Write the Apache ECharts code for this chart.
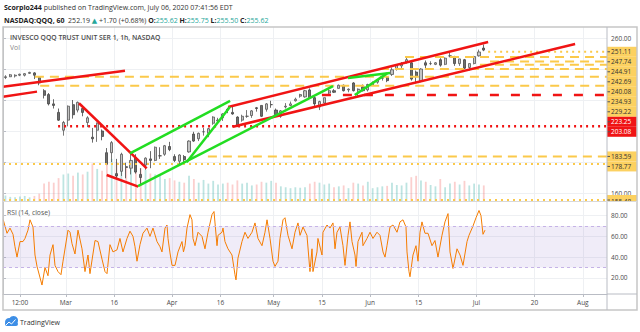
<!DOCTYPE html>
<html><head><meta charset="utf-8">
<script src="https://cdn.jsdelivr.net/npm/echarts@6/dist/echarts.min.js"></script>
<style>html,body{margin:0;padding:0;background:#fff}#c{width:640px;height:332px}</style>
</head><body><div id="c"></div>
<script>
// ---------- DATA ----------
const days = [
 '02-11','02-12','02-13','02-14','02-18','02-19','02-20','02-21','02-24','02-25','02-26','02-27','02-28',
 '03-02','03-03','03-04','03-05','03-06','03-09','03-10','03-11','03-12','03-13','03-16','03-17','03-18','03-19','03-20','03-23','03-24','03-25','03-26','03-27','03-30','03-31',
 '04-01','04-02','04-03','04-06','04-07','04-08','04-09','04-13','04-14','04-15','04-16','04-17','04-20','04-21','04-22','04-23','04-24','04-27','04-28','04-29','04-30',
 '05-01','05-04','05-05','05-06','05-07','05-08','05-11','05-12','05-13','05-14','05-15','05-18','05-19','05-20','05-21','05-22','05-26','05-27','05-28','05-29',
 '06-01','06-02','06-03','06-04','06-05','06-08','06-09','06-10','06-11','06-12','06-15','06-16','06-17','06-18','06-19','06-22','06-23','06-24','06-25','06-26','06-29','06-30',
 '07-01','07-02','07-06','07-07','07-08','07-09','07-10','07-13','07-14','07-15','07-16','07-17','07-20','07-21','07-22','07-23','07-24','07-27','07-28','07-29','07-30','07-31',
 '08-03','08-04','08-05','08-06','08-07'
];
const open = [234.5,235.0,235.5,236.0,236.0,237.2,237.5,234.5,226.0,223.5,217.5,212.0,200.5,
 207.0,217.0,213.5,214.5,205.5,196.0,200.5,200.0,186.0,186.0,172.5,174.0,177.0,176.0,183.0,172.0,178.0,182.0,181.0,184.0,185.0,190.0,
 183.5,180.5,183.5,186.5,198.0,195.0,199.5,198.5,205.0,206.5,208.5,214.0,212.0,209.0,207.0,209.5,210.0,215.0,216.5,214.0,217.0,
 213.5,209.5,215.5,216.5,219.5,222.5,222.0,226.5,221.5,215.5,218.0,224.5,226.0,227.5,229.5,226.5,231.0,226.5,228.5,226.5,
 229.5,231.5,234.0,234.5,236.5,240.0,242.0,244.5,244.0,238.0,232.0,244.0,243.5,243.0,246.0,243.0,248.5,248.0,243.5,246.0,241.0,243.5,
 248.5,253.5];
const close = [235.0,236.3,236.0,236.6,237.0,237.8,236.0,231.0,223.0,217.5,216.5,207.0,205.5,
 216.0,210.5,218.5,212.0,208.5,195.0,205.0,196.5,178.5,192.5,171.0,185.0,176.5,181.0,173.5,170.0,182.5,181.0,189.5,184.0,190.5,188.0,
 181.0,184.5,181.5,193.5,193.5,198.5,199.5,201.5,209.0,207.0,211.0,213.5,211.0,203.5,209.5,209.5,213.0,214.5,209.5,217.5,217.0,
 210.5,213.0,216.0,217.5,220.5,223.5,226.0,221.5,217.5,219.0,221.5,226.0,225.0,229.5,226.0,227.0,226.0,227.0,226.0,230.0,
 231.0,233.0,234.5,232.5,239.5,242.5,243.5,246.0,233.5,235.0,240.0,242.5,243.5,244.0,242.5,247.0,248.5,243.5,246.5,240.5,243.5,248.0,
 251.0,252.2];
const low = [233.5,234.8,234.5,235.4,235.2,236.8,233.5,229.5,221.0,216.5,214.5,206.5,197.0,
 203.0,208.0,212.0,209.5,202.5,192.5,193.0,194.0,178.0,180.0,169.0,171.0,169.5,172.0,172.5,165.0,175.0,176.0,180.5,182.0,184.0,187.0,
 180.0,178.5,179.5,186.0,193.0,193.5,197.0,196.0,204.0,205.0,206.5,211.5,210.5,202.5,206.0,208.5,208.5,212.5,209.0,212.5,215.0,
 209.5,208.5,214.5,216.0,219.0,221.5,221.5,221.5,215.5,213.5,217.0,223.5,224.5,227.5,225.5,225.0,225.5,222.5,225.5,225.5,
 229.0,230.5,232.5,231.5,235.5,239.0,240.5,243.5,232.5,231.5,231.5,240.5,242.5,242.5,241.5,242.5,247.5,242.0,242.0,240.0,239.0,243.0,
 248.0,251.5];
const high = [236.0,236.8,236.6,237.0,237.3,238.2,238.0,235.0,227.0,224.5,220.5,214.5,206.5,
 216.5,220.0,219.0,216.5,209.5,202.0,205.5,201.0,189.0,193.5,182.0,186.0,179.5,185.5,185.0,176.0,183.0,187.0,190.0,189.5,191.0,193.0,
 185.0,185.0,184.5,194.0,199.5,199.0,202.0,202.0,209.5,208.5,211.5,215.0,215.5,209.5,210.5,213.5,213.5,215.5,216.5,218.0,219.5,
 214.5,213.5,218.0,219.0,221.5,224.0,226.5,227.5,222.5,219.5,221.5,227.5,227.0,230.0,230.0,227.5,231.5,227.5,230.0,230.5,
 232.0,233.5,235.5,235.5,241.0,243.0,244.5,248.0,245.0,239.0,240.5,245.5,245.0,244.5,247.0,247.5,251.2,248.5,246.5,246.5,243.5,248.5,
 252.5,255.8];
const volume = [12,9,8,10,11,8,11,16,38,42,40,50,58,
 60,55,62,58,64,82,70,66,88,92,85,75,72,70,80,72,68,60,58,55,48,50,
 45,42,40,55,48,40,46,38,44,36,38,40,36,45,38,40,34,36,42,40,44,
 40,32,30,28,30,29,30,38,42,40,36,38,30,32,34,28,40,38,34,42,
 28,30,32,33,40,35,34,40,52,55,45,42,35,32,48,30,38,42,36,44,34,38,
 36,34];
// RSI(14) samples: trading-day position, value
const rsiTime = [0.05,0.83,1.45,2.07,2.48,2.9,3.52,4.14,4.55,5.17,5.59,6.21,6.62,7.04,8.07,8.69,9.31,9.73,10.35,10.76,11.38,12.0,12.42,13.45,13.87,14.28,14.9,15.52,16.35,16.97,17.59,18.0,19.04,19.66,20.49,21.11,21.52,22.14,22.76,23.59,24.21,24.83,25.66,26.28,26.9,27.32,27.73,28.35,28.97,29.8,30.42,31.04,31.87,32.49,32.9,33.53,33.94,34.15,34.56,34.98,35.6,36.22,37.04,37.35,37.67,38.08,38.7,39.11,39.32,39.74,40.36,41.18,41.8,42.43,43.25,43.67,44.29,44.5,45.32,45.53,45.94,46.56,47.39,48.01,48.22,48.63,49.46,50.08,50.7,51.53,52.15,52.77,53.6,54.22,54.64,55.26,55.88,56.29,56.91,57.33,57.95,58.36,58.98,59.81,60.43,61.05,61.47,62.09,62.91,63.53,63.95,64.15,64.98,65.18,66.02,66.22,67.05,67.67,68.29,68.71,69.12,69.74,70.36,70.78,71.4,71.81,72.23,72.85,73.06,73.47,74.3,74.5,75.33,75.95,76.57,77.4,78.02,78.64,79.06,79.47,80.09,80.71,81.54,82.16,82.78,83.4,83.61,84.02,84.23,84.85,85.47,85.89,86.3,86.71,87.33,87.96,88.78,89.4,90.02,90.85,91.47,92.1,92.51,93.13,93.96,94.58,95.2,96.03,96.44,97.27,97.89,98.51,98.92,99.34,99.75];
const rsiValue = [76,63,68,62,50,40,55,55,58,66,76,69,42,31,13,30,22,42,52,32,26,23,36,66,64,53,43,66,48,26,42,24,56,55,38,26,24,52,45,47,58,45,58,65,60,50,36,52,63,68,60,68,55,50,45,68,71,58,44,32,32,45,55,45,51,68,81,76,58,51,64,60,48,64,81,84,51,61,64,68,55,48,42,23,18,39,55,64,58,64,73,58,51,64,76,58,36,31,36,58,76,78,61,48,64,73,61,69,61,26,48,26,45,58,42,64,71,68,73,48,64,69,51,32,61,74,55,42,31,55,64,51,58,64,58,64,61,45,40,51,69,71,64,74,76,69,45,26,21,42,51,36,64,74,63,63,51,56,40,61,74,82,45,29,48,42,32,55,61,70,78,85,80,62,66];
// drawn trend lines: [startDay, startPrice, endDay, endPrice]
const redTrend = [[0,228.6,25.25,238.9],[0,222.1,7.04,225.4],[15.73,217.9,29.74,175.9],[21.46,171.6,28.0,164.1],[46.6,215.5,100.4,257.4],[47.6,202.8,118.4,256.1]];
const greenTrend = [[26.28,185.6,47.0,219.4],[27.94,164.5,68.3,229.0],[38.0,179.8,47.0,215.7],[72.8,223.2,79.5,237.2],[71.4,234.2,80.1,237.4]];
// horizontal levels: [price, startDay]
const yellowDashed = [[247.74,83.2],[244.91,100.8],[242.69,98.7],[240.08,78],[234.93,6.6],[229.22,7.7],[183.59,42.4]];
const yellowDotted = [[251.11,100.4],[178.77,0],[155.48,0]];
const redDashed = [[223.25,66]];
const redDotted = [[203.08,11.4]];
// axis ticks
const priceTicks = [160,180,200,220,240,260];
const priceLabels = [160,260];
const rsiTicks = [20,40,60,80];
const timeTickDays = ['02-14','03-02','03-16','04-01','04-16','05-01','05-15','06-01','06-15','07-01','07-20','08-03'];
const timeTickText = ['12:00','Mar','16','Apr','16','May','15','Jun','15','Jul','20','Aug'];

// ---------- CHART ----------
const FONT = '"Open Sans", "DejaVu Sans", sans-serif';
const chart = echarts.init(document.getElementById('c'), null, {renderer: 'svg'});
const N = days.length;
const timeTickPos = timeTickDays.map((d, i) => days.indexOf(d) + (timeTickText[i] === '12:00' ? 0.5 : 0));
const timeLabelOf = v => { const k = timeTickPos.findIndex(p => Math.abs(p - v) < 1e-6); return k >= 0 ? timeTickText[k] : ''; };

const GRID = '#eef0f3';
const AXIS = '#b9bcc4';
const LBL = '#4a4a4a';

const series = [];
series.push({
  type: 'bar', xAxisIndex: 0, yAxisIndex: 1, barWidth: 1.8, silent: true, z: 1,
  data: volume.map((v, i) => ({value: v, itemStyle: {color: close[i] >= open[i] ? 'rgba(38,166,154,0.3)' : 'rgba(239,83,80,0.28)'}}))
});
series.push({
  type: 'candlestick', xAxisIndex: 0, yAxisIndex: 0, barWidth: 2.6, silent: true, z: 2,
  data: open.map((o, i) => [o, close[i], low[i], high[i]]),
  itemStyle: {color: '#c4c4c4', color0: '#6e6e6e', borderColor: '#555', borderColor0: '#444', borderWidth: 0.8}
});
function seg(a, style) {
  return {type: 'line', xAxisIndex: 1, yAxisIndex: 0, data: [[a[0], a[1]], [a[2], a[3]]], symbol: 'none', silent: true, z: 5, lineStyle: style};
}
yellowDashed.forEach(l => series.push(seg([l[1], l[0], N, l[0]], {color: '#fbc94a', width: 2, type: [9, 6]})));
yellowDotted.forEach(l => series.push(seg([l[1], l[0], N, l[0]], {color: '#fbc94a', width: 2, type: [2, 4]})));
redDashed.forEach(l => series.push(seg([l[1], l[0], N, l[0]], {color: '#f01414', width: 2.5, type: [9, 12]})));
redDotted.forEach(l => series.push(seg([l[1], l[0], N, l[0]], {color: '#f01414', width: 2.5, type: [2, 4]})));
redTrend.forEach(l => series.push(seg(l, {color: '#f01414', width: 2.5})));
greenTrend.forEach(l => series.push(seg(l, {color: '#22dd22', width: 2.5})));
series.push({
  type: 'line', xAxisIndex: 2, yAxisIndex: 2, symbol: 'none', silent: true, z: 4,
  data: rsiTime.map((t, i) => [t, rsiValue[i]]),
  lineStyle: {color: '#f57c00', width: 1},
  markArea: {silent: true, itemStyle: {color: 'rgba(149,117,205,0.14)'}, data: [[{yAxis: 30}, {yAxis: 70}]]},
  markLine: {silent: true, symbol: 'none', label: {show: false}, lineStyle: {color: '#c5b3e6', type: [3, 3], width: 1}, data: [{yAxis: 30}, {yAxis: 70}]}
});

const option = {
  animation: false,
  backgroundColor: '#fff',
  textStyle: {fontFamily: FONT},
  grid: [
    {left: 3, right: 33, top: 27, height: 174},
    {left: 3, right: 33, top: 202, height: 92}
  ],
  xAxis: [
    {type: 'category', gridIndex: 0, data: days, boundaryGap: true, show: false},
    {type: 'value', gridIndex: 0, min: 0, max: N,
     axisLine: {show: false}, axisLabel: {show: false},
     axisTick: {show: false, customValues: timeTickPos},
     splitLine: {show: true, lineStyle: {color: GRID, width: 1}}},
    {type: 'value', gridIndex: 1, min: 0, max: N, position: 'bottom',
     axisLine: {show: true, onZero: false, lineStyle: {color: AXIS, width: 1}},
     axisTick: {show: true, length: 3, customValues: timeTickPos, lineStyle: {color: AXIS}},
     axisLabel: {customValues: timeTickPos, formatter: v => timeLabelOf(v), color: LBL, fontSize: 6.5, margin: 5, fontFamily: FONT},
     splitLine: {show: true, lineStyle: {color: GRID, width: 1}}}
  ],
  yAxis: [
    {type: 'value', gridIndex: 0, position: 'right', min: 154.84, max: 267.1, scale: true,
     axisLine: {show: true, lineStyle: {color: AXIS}},
     axisTick: {show: true, length: 3, customValues: priceTicks, lineStyle: {color: AXIS}},
     axisLabel: {customValues: priceLabels, formatter: v => v.toFixed(2), color: LBL, fontSize: 6.5, margin: 4, fontFamily: FONT},
     splitLine: {show: true, lineStyle: {color: GRID}}},
    {type: 'value', gridIndex: 0, min: 0, max: 380, show: false, splitLine: {show: false}},
    {type: 'value', gridIndex: 1, position: 'right', min: 4.35, max: 93.2,
     axisLine: {show: true, lineStyle: {color: AXIS}},
     axisTick: {show: true, length: 3, customValues: rsiTicks, lineStyle: {color: AXIS}},
     axisLabel: {customValues: rsiTicks, formatter: v => v.toFixed(2), color: LBL, fontSize: 6.5, margin: 4, fontFamily: FONT},
     splitLine: {show: true, lineStyle: {color: GRID}}}
  ],
  series: series
};
chart.setOption(option);

// ---------- PRICE TAGS (stacked like the price scale) ----------
const tagList = []
  .concat(yellowDashed.map(l => ({v: l[0], c: 'y'})))
  .concat(yellowDotted.map(l => ({v: l[0], c: 'y'})))
  .concat(redDashed.map(l => ({v: l[0], c: 'r'})))
  .concat(redDotted.map(l => ({v: l[0], c: 'r'})))
  .sort((a, b) => b.v - a.v);
const TAG_H = 10;
const PANE_BOTTOM = 201.5;
let prevY = -1e9;
const gAxisX = 607;
const tagGraphics = [];
tagList.forEach(t => {
  let y = chart.convertToPixel({yAxisIndex: 0}, t.v);
  if (y < prevY + TAG_H) y = prevY + TAG_H;
  prevY = y;
  const fill = t.c === 'y' ? '#fcd161' : '#f01414';
  const top = y - TAG_H / 2;
  const bottom = Math.min(y + TAG_H / 2, PANE_BOTTOM);
  // a tag that reaches the pane edge is cut by it: its text sits lower, half hidden
  const ty = (y + TAG_H / 2 > PANE_BOTTOM) ? PANE_BOTTOM - 0.5 : y;
  tagGraphics.push({type: 'rect', z: 50, shape: {x: gAxisX, y: top, width: 30, height: bottom - top}, style: {fill: fill}});
  tagGraphics.push({type: 'line', z: 51, shape: {x1: gAxisX, y1: y, x2: gAxisX + 3, y2: y}, style: {stroke: '#555', lineWidth: 1}});
  tagGraphics.push({type: 'text', z: 52, x: gAxisX + 4, y: ty, style: {text: t.v.toFixed(2), fill: t.c === 'y' ? '#333' : '#fff', font: '6.5px ' + FONT, verticalAlign: 'middle', align: 'left'}});
});

const staticGraphics = [
  // mask that cuts tags at the bottom edge of the price pane
  {type: 'rect', z: 55, shape: {x: 607.5, y: PANE_BOTTOM, width: 29, height: 6}, style: {fill: '#fff'}},
  {type: 'rect', z: 60, shape: {x: 3, y: 27, width: 634, height: 283}, style: {fill: 'none', stroke: '#c6c6c6', lineWidth: 1.5}},
  {type: 'line', z: 60, shape: {x1: 607, y1: 27, x2: 607, y2: 310}, style: {stroke: AXIS, lineWidth: 1}},
  {type: 'line', z: 60, shape: {x1: 3, y1: 201.5, x2: 637, y2: 201.5}, style: {stroke: '#d9d9d9', lineWidth: 1}},
  {type: 'line', z: 60, shape: {x1: 607, y1: 294, x2: 637, y2: 294}, style: {stroke: AXIS, lineWidth: 1}},
  {type: 'text', z: 60, x: 4, y: 7, style: {text: '{b|Scorpio244} published on TradingView.com, July 06, 2020 07:41:56 EDT', font: '7px ' + FONT, fill: '#333', verticalAlign: 'middle',
    rich: {b: {fontWeight: 'bold', fontSize: 7, fontFamily: FONT, fill: '#222'}}}},
  {type: 'text', z: 60, x: 4, y: 20, style: {text: '{b|NASDAQ:QQQ, 60}  252.19 {g|▲} +1.70 (+0.68%) {b|O:}{g|255.62} {b|H:}{g|255.75} {b|L:}{g|255.50} {b|C:}{g|255.62}', font: '7px ' + FONT, fill: '#333', verticalAlign: 'middle',
    rich: {b: {fontWeight: 'bold', fontSize: 7, fontFamily: FONT, fill: '#222'}, g: {fontSize: 7, fontFamily: FONT, fill: '#26a69a'}}}},
  {type: 'text', z: 60, x: 10, y: 37, style: {text: 'INVESCO QQQ TRUST UNIT SER 1, 1h, NASDAQ', font: '600 6.8px ' + FONT, fill: '#4a4a4a', verticalAlign: 'middle'}},
  {type: 'text', z: 60, x: 10, y: 47, style: {text: 'Vol', font: '6.8px ' + FONT, fill: '#888', verticalAlign: 'middle'}},
  {type: 'text', z: 60, x: 7, y: 212, style: {text: 'RSI (14, close)', font: '6.8px ' + FONT, fill: '#555', verticalAlign: 'middle'}},
  // TradingView logo
  {type: 'circle', z: 60, shape: {cx: 9, cy: 322, r: 4}, style: {fill: '#3d8ee6'}},
  {type: 'circle', z: 60, shape: {cx: 13.5, cy: 320.5, r: 4.5}, style: {fill: '#3d8ee6'}},
  {type: 'rect', z: 60, shape: {x: 5, y: 322, width: 13, height: 4, r: 2}, style: {fill: '#3d8ee6'}},
  {type: 'polyline', z: 61, shape: {points: [[6, 325], [9, 322], [11.5, 324], [15.5, 319.5]]}, style: {stroke: '#fff', lineWidth: 1, fill: 'none'}},
  {type: 'text', z: 60, x: 20, y: 322.5, style: {text: 'TradingView', font: '7px ' + FONT, fill: '#333', verticalAlign: 'middle'}}
];
chart.setOption({graphic: staticGraphics.concat(tagGraphics)});
</script>
</body></html>
